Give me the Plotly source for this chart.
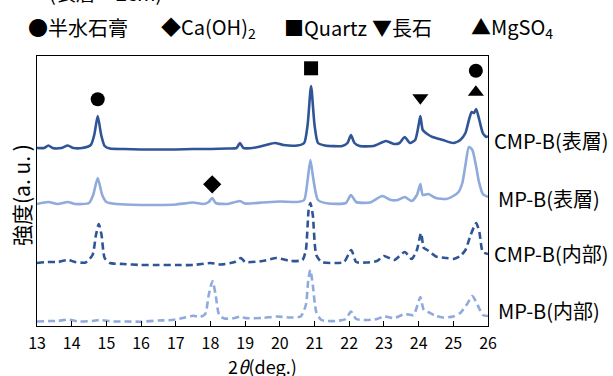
import plotly.graph_objects as go

# ---------------- data ----------------
two_theta_cmp_surf = [13.0,13.2,13.33,13.45,13.7,13.89,14.05,14.3,14.55,14.65,14.75,14.85,14.95,15.1,15.5,16.0,16.5,17.0,17.5,18.0,18.5,18.75,18.85,18.95,19.3,19.6,19.86,20.1,20.5,20.7,20.8,20.9,21.0,21.1,21.3,21.8,21.95,22.05,22.15,22.3,22.7,23.06,23.3,23.45,23.6,23.75,23.9,24.0,24.05,24.12,24.25,24.4,24.7,25.0,25.2,25.35,25.45,25.53,25.6,25.66,25.75,25.85,25.95,26.0]
int_cmp_surf = [1,1,3.5,1,1,3.5,1,1,4,14,33,14,3,0.5,0,-0.5,-0.5,-0.5,0,0,0.5,1,6,1,1.5,4,6,4,3.5,6,24,63,24,6,3.5,3,6,14,6,3,3,8,5,6,12,6,9,24,33,19,15,12,9,6,9,16,29,37,36,40,29,16,12,13]

two_theta_mp_surf = [13.0,13.33,13.6,13.89,14.1,14.5,14.62,14.75,14.88,15.0,15.3,16.0,16.5,17.0,17.5,17.8,17.95,18.05,18.15,18.5,18.85,19.0,19.5,20.0,20.5,20.7,20.8,20.88,20.97,21.1,21.4,21.9,22.05,22.2,22.6,22.95,23.2,23.4,23.6,23.8,23.95,24.05,24.12,24.28,24.5,24.8,25.0,25.15,25.26,25.35,25.45,25.55,25.65,25.74,25.85,26.0]
int_mp_surf = [0,2,0,2,0,1,9,26,9,2,0,-1,-1,-0.5,1.5,0,2,6,1,0,3,0.5,1.5,2.5,2,4,24,44,24,4,0.5,1,9,2,1.5,8,4,4,7,3,9,20,9,10,6,5,8,12,21,39,57,54,39,22,10,7]

two_theta_cmp_in = [13.0,13.3,13.6,13.9,14.1,14.4,14.6,14.7,14.78,14.86,14.95,15.1,15.5,16.0,16.5,17.0,17.5,18.0,18.3,18.7,18.88,19.0,19.5,19.9,20.3,20.65,20.75,20.83,20.88,20.95,21.05,21.2,21.6,21.85,22.06,22.2,22.5,22.8,23.0,23.3,23.6,23.8,23.95,24.07,24.15,24.25,24.5,24.8,25.0,25.2,25.35,25.5,25.66,25.75,25.85,26.0]
int_cmp_in = [0,1,1,3,1,0.5,8,28,39,28,5,0,-1,-2,-2,-2,-2,0,-1.5,1,5,1,2,5,2,3,13,53,60,48,8,1,0,1,13,1,0.5,2,7,3,11,4,13,30,15,13,6.5,5,4,7,13,28,40,31,11,9]

two_theta_mp_in = [13.0,13.4,13.6,13.9,14.2,14.6,14.8,15.2,15.6,16.0,16.5,16.9,17.2,17.5,17.7,17.85,17.95,18.06,18.15,18.25,18.4,18.7,18.85,19.0,19.5,19.9,20.3,20.6,20.75,20.82,20.88,20.95,21.05,21.2,21.6,21.9,22.05,22.2,22.5,22.8,23.0,23.3,23.6,23.85,23.97,24.05,24.15,24.3,24.5,24.7,25.0,25.2,25.4,25.55,25.7,25.85,26.0]
int_mp_in = [-0.5,0,0,1.5,-0.5,0,1,-0.5,-0.5,-0.7,0.5,1,3,5.3,4,7,26,40,26,6,2.5,3,4.5,3,3,4.5,3.5,4.5,16,41,51,36,9,1,0,2,9.5,2,1,2,4.5,3,7,6,16,24,11,8.5,5,3.5,4.5,8,17,25,16,6,5]

series_names = ["CMP-B(表層)", "MP-B(表層)", "CMP-B(内部)", "MP-B(内部)"]
series_offsets = [177, 122, 63, 5]

# phase marker symbols above peaks
phase_symbols = ["circle", "diamond", "square", "triangle-down", "circle", "triangle-up"]
phase_two_theta = [14.75, 18.05, 20.9, 24.05, 25.65, 25.65]
phase_height = [226.7, 141.7, 257.7, 228.3, 255.3, 233.7]

x_ticks = list(range(13, 27))

# ---------------- figure ----------------
DARK = "#2f5597"
LIGHT = "#8faadc"
LAT = "Noto Sans CJK JP"

series = [
    (two_theta_cmp_surf, int_cmp_surf, DARK, "solid"),
    (two_theta_mp_surf, int_mp_surf, LIGHT, "solid"),
    (two_theta_cmp_in, int_cmp_in, DARK, "7px,4px"),
    (two_theta_mp_in, int_mp_in, LIGHT, "7px,4px"),
]

fig = go.Figure()
for (xs, ys, col, dash), name, off in zip(series, series_names, series_offsets):
    fig.add_trace(go.Scatter(
        x=xs, y=[v + off for v in ys], mode="lines", name=name,
        line=dict(color=col, width=2.6, dash=dash, shape="spline", smoothing=0.6),
        showlegend=False, hoverinfo="skip"))

fig.add_trace(go.Scatter(
    x=phase_two_theta, y=phase_height, mode="markers",
    marker=dict(symbol=phase_symbols, size=14, color="black", line=dict(width=0)),
    showlegend=False, hoverinfo="skip"))

L, R, T, B = 37, 125, 56, 50
PW, PH = 613 - L - R, 376 - T - B

def px2paper_x(px):
    return (px - L) / PW

def px2paper_y(py):
    return (376 - B - py) / PH

ann = []
# series labels at right
label_px = [(492, 140), (496, 198), (492, 253), (496, 310)]
for name, (lx, ly) in zip(series_names, label_px):
    ann.append(dict(text=name, xref="paper", yref="paper", x=px2paper_x(lx), y=px2paper_y(ly),
                    xanchor="left", yanchor="middle", showarrow=False,
                    font=dict(family=LAT, size=20, color="black")))

# phase legend row on top
legend_items = [("●半水石膏", 26), ("◆Ca(OH)<sub>2</sub>", 159), ("■Quartz", 282),
                ("▼長石", 370), ("▲MgSO<sub>4</sub>", 469)]
for txt, lx in legend_items:
    ann.append(dict(text=txt, xref="paper", yref="paper", x=px2paper_x(lx), y=px2paper_y(27),
                    xanchor="left", yanchor="middle", showarrow=False,
                    font=dict(family=LAT, size=20, color="black")))

# partially cut caption at very top
ann.append(dict(text="(表層～2cm)", xref="paper", yref="paper", x=px2paper_x(105), y=px2paper_y(-7),
                xanchor="center", yanchor="middle", showarrow=False,
                font=dict(family=LAT, size=20, color="black")))

# axis titles
ann.append(dict(text="2<i>θ</i>(deg.)", xref="paper", yref="paper", x=px2paper_x(262), y=px2paper_y(366),
                xanchor="center", yanchor="middle", showarrow=False,
                font=dict(family=LAT, size=18, color="black")))
ann.append(dict(text="強度(a. u. )", xref="paper", yref="paper", x=px2paper_x(21), y=px2paper_y(195),
                xanchor="center", yanchor="middle", showarrow=False, textangle=-90,
                font=dict(family=LAT, size=21, color="black")))

fig.update_layout(
    width=613, height=376,
    margin=dict(l=L, r=R, t=T, b=B, pad=0),
    paper_bgcolor="white", plot_bgcolor="white",
    annotations=ann,
    xaxis=dict(range=[13, 26], tickvals=x_ticks, ticktext=[str(t) for t in x_ticks],
               ticks="inside", ticklen=5, tickwidth=1, tickcolor="black",
               showline=True, linecolor="black", linewidth=1.3, mirror=True,
               showgrid=False, zeroline=False, ticklabelstandoff=3,
               tickfont=dict(family=LAT, size=16, color="black")),
    yaxis=dict(range=[0, 270], showticklabels=False, ticks="",
               showline=True, linecolor="black", linewidth=1.3, mirror=True,
               showgrid=False, zeroline=False),
)

fig.write_html("out.html")
